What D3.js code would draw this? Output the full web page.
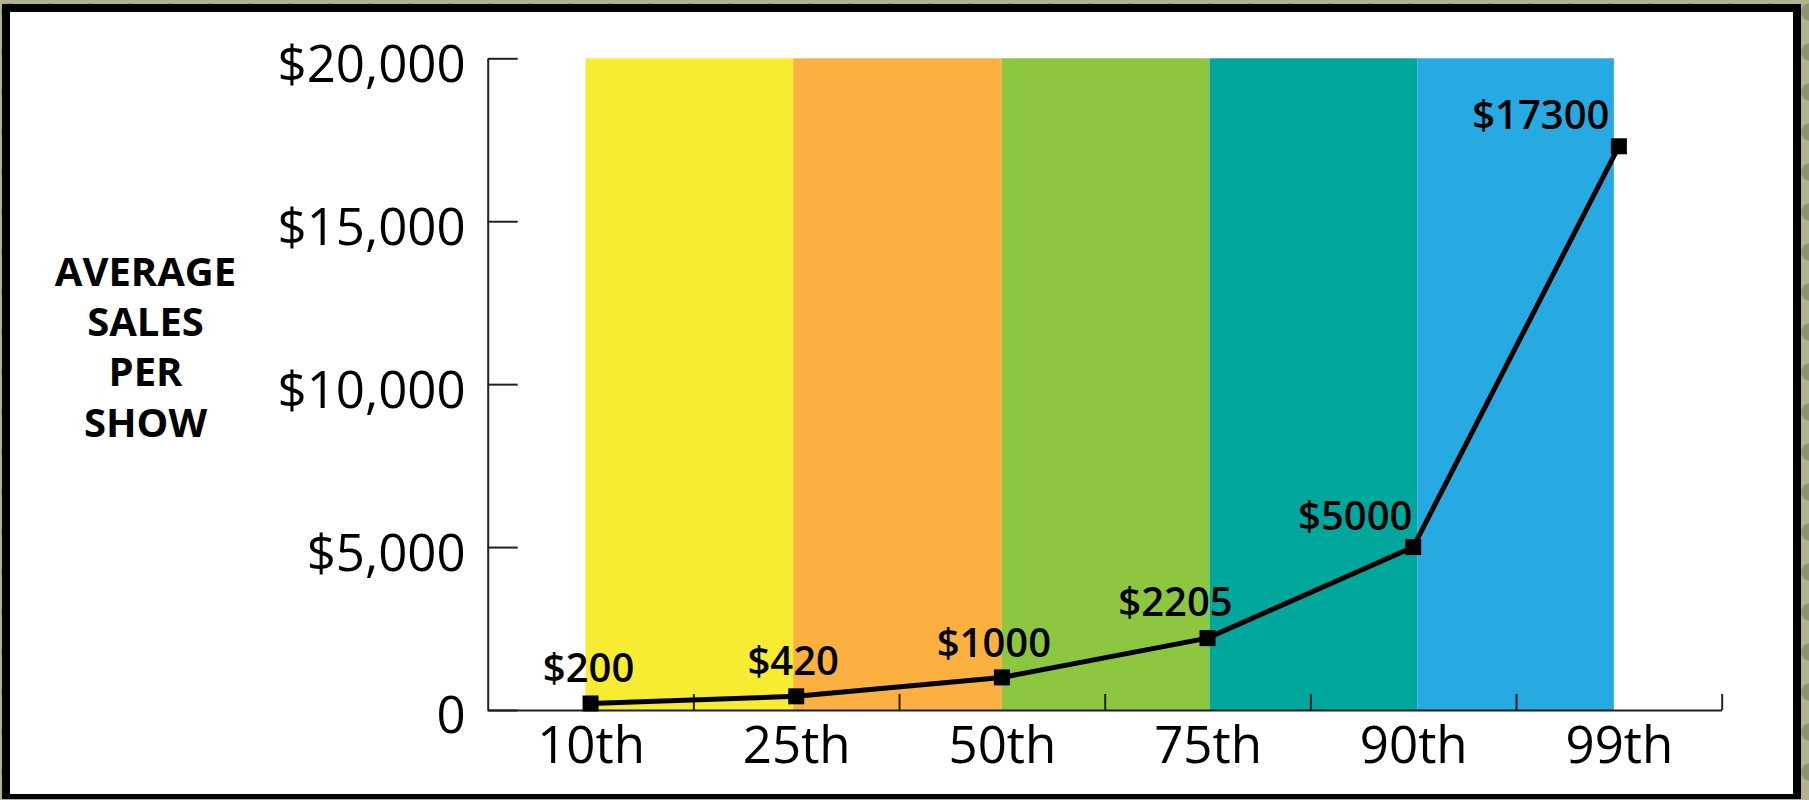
<!DOCTYPE html>
<html>
<head>
<meta charset="utf-8">
<script src="https://cdn.jsdelivr.net/npm/d3@7"></script>
<style>
  html, body { margin: 0; padding: 0; background: #a7a582; }
  svg { display: block; }
  text { font-family: "Open Sans", "Noto Sans", sans-serif; }
</style>
</head>
<body>
<svg id="chart" width="1809" height="800"></svg>
<script>
// ---- data ----
const categories = ["10th", "25th", "50th", "75th", "90th", "99th"];
const sales = [200, 420, 1000, 2205, 5000, 17300];
const pointLabels = ["$200", "$420", "$1000", "$2205", "$5000", "$17300"];
const yTickValues = [0, 5000, 10000, 15000, 20000];
const yTickLabels = ["0", "$5,000", "$10,000", "$15,000", "$20,000"];
const bandColors = ["#F7EC31", "#FBB040", "#8DC63F", "#00A79D", "#27AAE1"];
const yTitleLines = ["AVERAGE", "SALES", "PER", "SHOW"];

// ---- layout ----
const W = 1809, H = 800;
const svg = d3.select("#chart");
const ink = "#231F20";

// textured-ish background outside frame
const defs = svg.append("defs");
const pat = defs.append("pattern").attr("id", "bg").attr("width", 40).attr("height", 40).attr("patternUnits", "userSpaceOnUse");
pat.append("rect").attr("width", 40).attr("height", 40).attr("fill", "#b3b28f");
pat.append("circle").attr("cx", 10).attr("cy", 12).attr("r", 9).attr("fill", "#8f946c");
pat.append("circle").attr("cx", 30).attr("cy", 30).attr("r", 8).attr("fill", "#d4d0b0");
svg.append("rect").attr("width", W).attr("height", H).attr("fill", "url(#bg)");

// frame
svg.append("rect").attr("x", 2).attr("y", 4).attr("width", 1799).attr("height", 795).attr("fill", "#000");
svg.append("rect").attr("x", 10).attr("y", 12).attr("width", 1783).attr("height", 782).attr("fill", "#fff");

// scales
const x = d3.scaleLinear().domain([-0.5, categories.length - 0.5]).range([487.7, 1721.7]);
const y = d3.scaleLinear().domain([0, 20000]).range([710, 58.3]);

// colour bands between consecutive percentiles
const edgeNudge = [-5, -3, 0, 2, 4, -5];
const bands = bandColors.map((c, i) => ({ c, x0: x(i) + edgeNudge[i], x1: x(i + 1) + edgeNudge[i + 1] }));
svg.append("g").selectAll("rect").data(bands).join("rect")
  .attr("x", d => d.x0)
  .attr("y", y(20000))
  .attr("width", d => d.x1 - d.x0)
  .attr("height", y(0) - y(20000))
  .attr("fill", d => d.c);

// y axis
const yAxis = svg.append("g").attr("transform", `translate(${x(-0.5)},0)`)
  .call(d3.axisLeft(y).tickValues(yTickValues).tickFormat((d, i) => yTickLabels[i])
    .tickSizeInner(-30).tickSizeOuter(0).tickPadding(22));
yAxis.select(".domain").attr("stroke", ink).attr("stroke-width", 2);
yAxis.selectAll(".tick line").attr("stroke", ink).attr("stroke-width", 2);
yAxis.selectAll(".tick text").attr("font-size", 51).attr("fill", "#000").attr("dy", "0.45em")
  .style("font-family", '"Open Sans", sans-serif');

// x axis: ticks between categories
const xAxis = svg.append("g").attr("transform", `translate(0,${y(0)})`)
  .call(d3.axisBottom(x).tickValues(d3.range(categories.length).map(i => i + 0.5))
    .tickFormat("").tickSizeInner(-16).tickSizeOuter(0));
xAxis.select(".domain").attr("stroke", ink).attr("stroke-width", 2);
xAxis.selectAll(".tick line").attr("stroke", ink).attr("stroke-width", 2);

// x axis labels under each percentile
const xLab = svg.append("g").attr("transform", `translate(0,${y(0)})`)
  .call(d3.axisBottom(x).tickValues(d3.range(categories.length)).tickFormat(i => categories[i])
    .tickSize(0).tickPadding(17));
xLab.select(".domain").remove();
xLab.selectAll(".tick text").attr("font-size", 51).attr("fill", "#000")
  .style("font-family", '"Open Sans", sans-serif');

// line
const line = d3.line().x((d, i) => x(i)).y(d => y(d));
svg.append("path").datum(sales).attr("d", line)
  .attr("fill", "none").attr("stroke", "#000").attr("stroke-width", 5).attr("stroke-linejoin", "miter");

// markers
const ms = 16;
svg.append("g").selectAll("rect").data(sales).join("rect")
  .attr("x", (d, i) => x(i) - ms / 2)
  .attr("y", d => y(d) - ms / 2)
  .attr("width", ms).attr("height", ms).attr("fill", "#000");

// value labels
const labelDx = [-2, -3, -8, -32, -58, -78];
const labelDy = [-21, -21, -20, -22, -17, -17];
svg.append("g").selectAll("text").data(sales).join("text")
  .attr("x", (d, i) => x(i) + labelDx[i])
  .attr("y", (d, i) => y(d) + labelDy[i])
  .attr("text-anchor", "middle")
  .attr("font-size", 40).attr("font-weight", 600).attr("fill", "#000")
  .text((d, i) => pointLabels[i]);

// y title
svg.append("g").selectAll("text").data(yTitleLines).join("text")
  .attr("x", 145.5)
  .attr("y", (d, i) => 286 + i * 50.2)
  .attr("text-anchor", "middle")
  .attr("font-size", 40).attr("font-weight", 700).attr("fill", "#000")
  .text(d => d);
</script>
</body>
</html>
